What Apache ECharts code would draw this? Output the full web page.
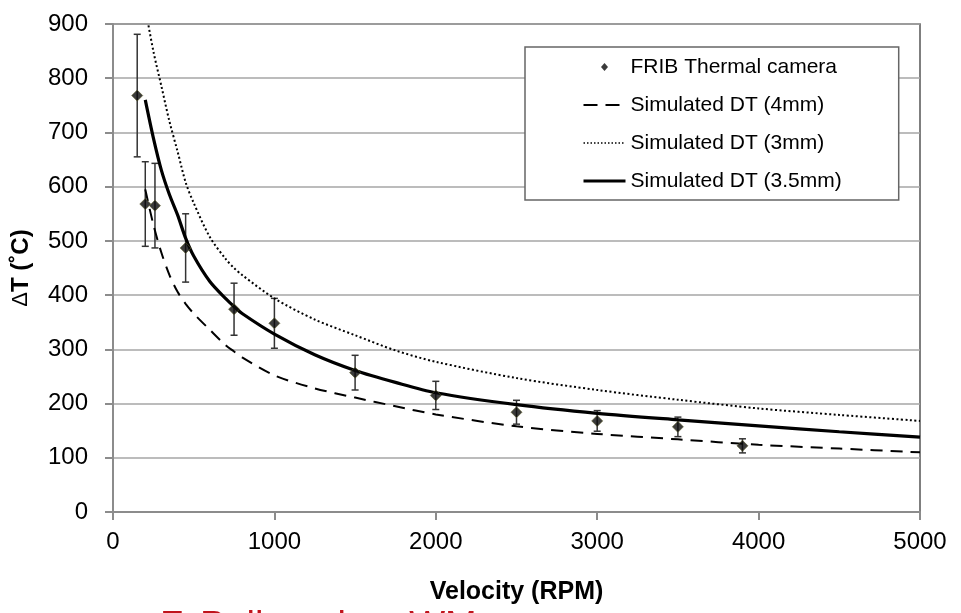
<!DOCTYPE html>
<html>
<head>
<meta charset="utf-8">
<script src="https://cdn.jsdelivr.net/npm/echarts@6/dist/echarts.min.js"></script>
<style>
html,body{margin:0;padding:0;background:#fff;}
#chart{width:961px;height:613px;}
</style>
</head>
<body>
<div id="chart"></div>
<script>
// ---- data ----
var camX = [150, 200, 260, 450, 750, 1000, 1500, 2000, 2500, 3000, 3500, 3900];
var camY = [768, 568, 565, 487, 374, 348, 257, 215, 184, 168, 157, 122];
var camErr = [113, 78, 78, 63, 48, 46, 32, 26, 22, 19, 18, 13];

var simX = [200, 250, 300, 350, 400, 450, 500, 600, 700, 750, 800, 1000, 1250, 1500, 1750, 2000, 2500, 3000, 3500, 4000, 4500, 5000];
var sim4mm = [595, 530, 478, 437, 406, 384, 366, 336, 307, 296, 285, 252, 228, 211, 195, 180, 158, 144, 134, 124, 117, 110];
var sim3mm = [930, 850, 785, 720, 665, 608, 570, 507, 466, 450, 437, 394, 355, 326, 298, 277, 247, 225, 207, 191, 179, 168];
var sim35mm = [760, 690, 630, 585, 548, 505, 472, 425, 393, 379, 366, 328, 290, 261, 239, 220, 198, 182, 170, 159, 148, 138];

var xTicks = [0, 1000, 2000, 3000, 4000, 5000];
var yTicks = [0, 100, 200, 300, 400, 500, 600, 700, 800, 900];

var names = ['FRIB Thermal camera', 'Simulated DT (4mm)', 'Simulated DT (3mm)', 'Simulated DT (3.5mm)'];

function pairs(xs, ys) { return xs.map(function (x, i) { return [x, ys[i]]; }); }

var FONT = '"Liberation Sans", Arial, sans-serif';
var chart = echarts.init(document.getElementById('chart'), null, {renderer: 'canvas'});

// small diamond centred in a 42x9 icon box (tiny end segments only widen the bounds)
var diamondIcon = 'path://M0,4.5L0.01,4.5L0,4.5Z M17.5,4.5L21,0.5L24.5,4.5L21,8.5Z M42,4.5L41.99,4.5L42,4.5Z';

var option = {
  backgroundColor: '#ffffff',
  animation: false,
  textStyle: {fontFamily: FONT, color: '#000'},
  grid: {left: 113, right: 41, top: 24, bottom: 101, show: true, borderColor: '#555', borderWidth: 1.5, backgroundColor: 'transparent'},
  xAxis: {
    type: 'value', min: xTicks[0], max: xTicks[xTicks.length - 1], interval: 1000,
    name: 'Velocity (RPM)', nameLocation: 'middle', nameGap: 68,
    nameTextStyle: {fontFamily: FONT, fontSize: 25, fontWeight: 'bold', color: '#000'},
    axisLine: {show: true, lineStyle: {color: '#8c8c8c', width: 2}},
    axisTick: {show: true, inside: false, length: 8, lineStyle: {color: '#8c8c8c', width: 2}},
    axisLabel: {fontFamily: FONT, fontSize: 24, color: '#000', margin: 18,
      formatter: function (v) { return String(v); }},
    splitLine: {show: false}
  },
  yAxis: {
    type: 'value', min: yTicks[0], max: yTicks[yTicks.length - 1], interval: 100,
    name: '{d|Δ}T (˚C)', nameLocation: 'middle', nameGap: 80,
    nameTextStyle: {fontFamily: FONT, fontSize: 24, fontWeight: 'bold', color: '#000',
      rich: {d: {fontFamily: FONT, fontSize: 22, fontWeight: 'normal', color: '#000'}}},
    axisLine: {show: true, lineStyle: {color: '#8c8c8c', width: 2}},
    axisTick: {show: true, inside: false, length: 8, lineStyle: {color: '#8c8c8c', width: 2}},
    axisLabel: {fontFamily: FONT, fontSize: 24, color: '#000', margin: 25,
      formatter: function (v) { return String(v); }},
    splitLine: {show: true, lineStyle: {color: '#a6a6a6', width: 1.5}}
  },
  legend: {
    orient: 'vertical', left: 525, top: 47,
    data: [
      {name: names[0], icon: diamondIcon, itemStyle: {color: '#0a0a0a', borderWidth: 0}},
      {name: names[1], itemStyle: {opacity: 0}, lineStyle: {width: 2, type: [14, 8]}},
      {name: names[2], itemStyle: {opacity: 0}, lineStyle: {width: 1.5, type: [1.5, 2]}},
      {name: names[3], itemStyle: {opacity: 0}, lineStyle: {width: 3}}
    ],
    symbolKeepAspect: true,
    padding: [8, 57, 7, 57],
    itemWidth: 42, itemHeight: 9, itemGap: 14,
    backgroundColor: '#fff', borderColor: '#666', borderWidth: 1.5,
    textStyle: {fontFamily: FONT, fontSize: 21, color: '#000', lineHeight: 24}
  },
  series: [
    {
      name: 'errbars', type: 'custom', z: 3,
      data: camX.map(function (x, i) { return [x, camY[i], camErr[i]]; }),
      encode: {x: 0, y: 1},
      renderItem: function (params, api) {
        var x = api.value(0), y = api.value(1), e = api.value(2);
        var top = api.coord([x, y + e]);
        var bot = api.coord([x, y - e]);
        var hw = 3.5;
        var st = {stroke: '#333', lineWidth: 1.5};
        return {type: 'group', children: [
          {type: 'line', shape: {x1: top[0], y1: top[1], x2: bot[0], y2: bot[1]}, style: st},
          {type: 'line', shape: {x1: top[0] - hw, y1: top[1], x2: top[0] + hw, y2: top[1]}, style: st},
          {type: 'line', shape: {x1: bot[0] - hw, y1: bot[1], x2: bot[0] + hw, y2: bot[1]}, style: st}
        ]};
      }
    },
    {
      name: names[0], type: 'scatter', z: 5,
      data: pairs(camX, camY),
      symbol: 'diamond', symbolSize: 11,
      itemStyle: {color: '#0a0a0a', borderColor: '#5a5a2a', borderWidth: 0.8}
    },
    {
      name: names[1], type: 'line', z: 4, smooth: 0.3, symbol: 'none', showSymbol: false,
      data: pairs(simX, sim4mm),
      lineStyle: {color: '#000', width: 2, type: [12, 8]},
      itemStyle: {color: '#000'}
    },
    {
      name: names[2], type: 'line', z: 4, smooth: 0.3, symbol: 'none', showSymbol: false, clip: true,
      data: pairs(simX, sim3mm),
      lineStyle: {color: '#000', width: 2, type: [2, 2.5]},
      itemStyle: {color: '#000'}
    },
    {
      name: names[3], type: 'line', z: 4, smooth: 0.3, symbol: 'none', showSymbol: false,
      data: pairs(simX, sim35mm),
      lineStyle: {color: '#000', width: 3.2},
      itemStyle: {color: '#000'}
    }
  ],
  graphic: [
    {type: 'text', left: 160, top: 609, silent: true,
     style: {text: 'F. Pellemoine, WM', fill: '#c0141c', font: '38px "Liberation Sans", Arial, sans-serif'}}
  ]
};
chart.setOption(option);
</script>
</body>
</html>
